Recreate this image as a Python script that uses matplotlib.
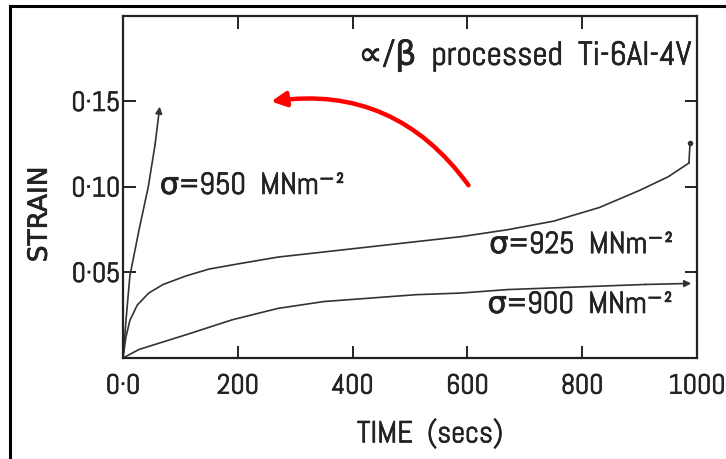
import matplotlib
matplotlib.use('Agg')
import matplotlib.pyplot as plt
import matplotlib.patheffects as pe
from matplotlib.lines import Line2D

# Creep curves, alpha/beta processed Ti-6Al-4V
t_950 = [0, 6, 12, 28, 44, 56, 64]
e_950 = [0, 0.025, 0.048, 0.075, 0.100, 0.125, 0.147]

t_925 = [0, 5, 12, 25, 45, 70, 110, 150, 200, 270, 350, 430, 510, 590, 670, 750, 830, 900, 950, 986]
e_925 = [0, 0.012, 0.022, 0.031, 0.038, 0.043, 0.048, 0.052, 0.055, 0.059, 0.062, 0.065,
         0.068, 0.071, 0.075, 0.080, 0.088, 0.098, 0.106, 0.114]
t_925_rupture = [986, 988]
e_925_rupture = [0.114, 0.126]

t_900 = [0, 28, 110, 190, 270, 350, 430, 510, 590, 670, 750, 830, 910, 990]
e_900 = [0, 0.005, 0.0136, 0.0223, 0.029, 0.033, 0.035, 0.037, 0.038, 0.040, 0.041, 0.042, 0.043, 0.0436]

xticks = [0, 200, 400, 600, 800, 1000]
xticklabels = ['0\u00b70', '200', '400', '600', '800', '1000']
yticks = [0.05, 0.10, 0.15]
yticklabels = ['0\u00b705', '0\u00b710', '0\u00b715']

# narrow "stencil" look of the original lettering
fam = ['Abel', 'PT Sans Narrow', 'DejaVu Sans']
ink = '#222222'
line_c = '#333333'
thick = [pe.withStroke(linewidth=0.5, foreground=ink)]

fig = plt.figure(figsize=(7.26, 4.6), dpi=100)
ax = fig.add_axes([0.1694, 0.2196, 0.7906, 0.7435])

ax.plot(t_925, e_925, color=line_c, lw=1.2)
ax.plot(t_925_rupture, e_925_rupture, color=line_c, lw=1.2)
ax.plot(t_925_rupture[-1:], e_925_rupture[-1:], 'o', color=line_c, ms=3)
ax.plot(t_900[:-1], e_900[:-1], color=line_c, lw=1.2)
ax.annotate('', xy=(t_900[-1], e_900[-1]), xytext=(t_900[-2], e_900[-2]),
            arrowprops=dict(arrowstyle='-|>', color=line_c, lw=1.2, mutation_scale=10, shrinkA=0, shrinkB=0))
ax.plot(t_950[:-1], e_950[:-1], color=line_c, lw=1.2)
ax.annotate('', xy=(t_950[-1], e_950[-1]), xytext=(t_950[-2], e_950[-2]),
            arrowprops=dict(arrowstyle='-|>', color=line_c, lw=1.2, mutation_scale=10, shrinkA=0, shrinkB=0))

# red arrow
ax.annotate('', xy=(258, 0.150), xytext=(602, 0.101),
            arrowprops=dict(arrowstyle='-|>', color='red', lw=3.2, mutation_scale=22,
                            connectionstyle='arc3,rad=0.3', shrinkA=0, shrinkB=0))

ax.text(64, 0.1006, '\u03c3=950  MNm\u207b\u00b2', family=fam, fontsize=22, va='center', ha='left',
        color=ink, path_effects=thick)
ax.text(638, 0.066, '\u03c3=925  MNm\u207b\u00b2', family=fam, fontsize=22, va='center', ha='left',
        color=ink, path_effects=thick)
ax.text(635, 0.031, '\u03c3=900  MNm\u207b\u00b2', family=fam, fontsize=22, va='center', ha='left',
        color=ink, path_effects=thick)
ax.text(990, 0.177, '\u221d/\u03b2  processed  Ti-6Al-4V', family=fam, fontsize=24, va='center', ha='right',
        color=ink, path_effects=thick)

ax.set_xlim(0, 1000)
ax.set_ylim(0, 0.2)
ax.set_xticks(xticks)
ax.set_xticklabels(xticklabels, family=fam, fontsize=20, color=ink, path_effects=thick)
ax.set_yticks(yticks)
ax.set_yticklabels(yticklabels, family=fam, fontsize=20, color=ink, path_effects=thick)
ax.tick_params(direction='in', length=9, width=1.4, color=ink, top=True, right=True)
ax.tick_params(axis='x', pad=12)
ax.tick_params(axis='y', pad=2)
for s in ax.spines.values():
    s.set_linewidth(1.6)
    s.set_color(ink)

ax.text(-0.145, 0.42, 'STRAIN', transform=ax.transAxes, rotation=90, ha='center', va='center',
        family='DejaVu Sans', fontsize=19, color=ink, path_effects=thick)
ax.text(0.535, -0.22, 'TIME  (secs)', transform=ax.transAxes, ha='center', va='center',
        family=fam, fontsize=22, color=ink, path_effects=thick)

# outer frame of the scanned figure
fig.add_artist(Line2D([9.5 / 726, 9.5 / 726], [0, 1 - 7 / 460], transform=fig.transFigure, color='black', lw=2.2))
fig.add_artist(Line2D([9.5 / 726, 1], [1 - 7 / 460, 1 - 7 / 460], transform=fig.transFigure, color='black', lw=2.2))

fig.savefig('out.png', dpi=100, facecolor='white')
